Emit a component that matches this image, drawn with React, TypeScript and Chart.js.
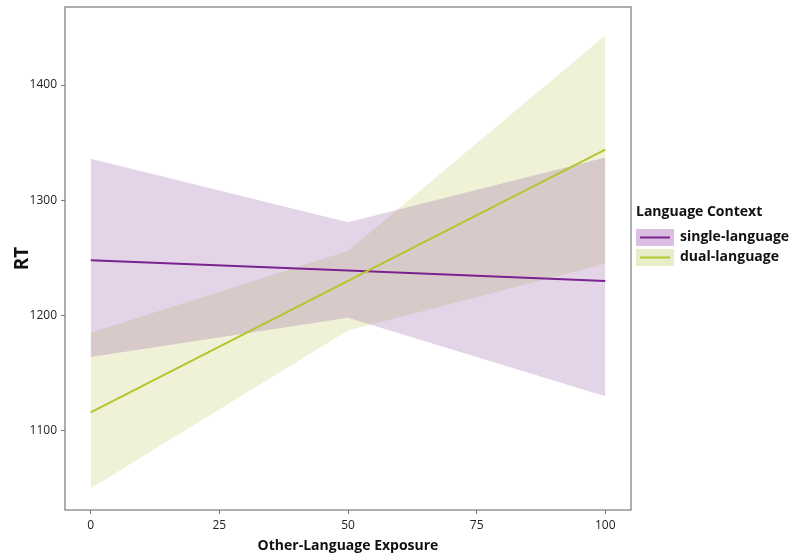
import React, { useEffect, useRef } from "react";
import { Chart, registerables } from "chart.js";

Chart.register(...registerables);

const exposure = [0, 50, 100];
const singleFit = [1248, 1239, 1230];
const singleLower = [1164, 1198, 1130];
const singleUpper = [1336, 1281, 1337];
const dualFit = [1116, 1230, 1344];
const dualLower = [1050, 1187, 1245];
const dualUpper = [1185, 1256, 1443];
const xTicks = [0, 25, 50, 75, 100];
const yTicks = [1100, 1200, 1300, 1400];
const seriesNames = ["single-language", "dual-language"];
const legendTitle = "Language Context";

const PURPLE_LINE = "#7a2390";
const PURPLE_FILL = "rgba(115,40,140,0.2)";
const GREEN_LINE = "#b3c62c";
const GREEN_FILL = "rgba(175,190,55,0.2)";
const FONT = "'Open Sans', 'Noto Sans', sans-serif";

const pts = (ys: number[]) => exposure.map((x, i) => ({ x, y: ys[i] }));

export default function App() {
  const ref = useRef<HTMLCanvasElement | null>(null);
  useEffect(() => {
    document.body.style.margin = "0";
    const canvas = ref.current!;
    const framePlugin = {
      id: "frame",
      afterDraw(chart: any) {
        const { ctx, chartArea: a } = chart;
        ctx.save();
        ctx.strokeStyle = "#7a7a7a";
        ctx.lineWidth = 1.2;
        ctx.strokeRect(a.left, a.top, a.right - a.left, a.bottom - a.top);
        // axis titles
        ctx.fillStyle = "#111";
        ctx.font = `bold 14px ${FONT}`;
        ctx.textAlign = "center";
        ctx.textBaseline = "middle";
        ctx.fillText("Other-Language Exposure", (a.left + a.right) / 2, 546);
        ctx.save();
        ctx.translate(23, (a.top + a.bottom) / 2);
        ctx.rotate(-Math.PI / 2);
        ctx.font = `bold 19px ${FONT}`;
        ctx.fillText("RT", 0, 0);
        ctx.restore();
        // legend
        ctx.textAlign = "left";
        ctx.font = `bold 14px ${FONT}`;
        ctx.fillText(legendTitle, 636, 212);
        const keys = [
          { fill: "#dabfe3", line: PURPLE_LINE, y: 229 },
          { fill: "#e7edc6", line: GREEN_LINE, y: 249 },
        ];
        keys.forEach((k, i) => {
          ctx.fillStyle = k.fill;
          ctx.fillRect(636, k.y, 38, 17);
          ctx.strokeStyle = k.line;
          ctx.lineWidth = 2;
          ctx.beginPath();
          ctx.moveTo(640, k.y + 8.5);
          ctx.lineTo(670, k.y + 8.5);
          ctx.stroke();
          ctx.fillStyle = "#111";
          ctx.font = `bold 14px ${FONT}`;
          ctx.fillText(seriesNames[i], 680, k.y + 8.5);
        });
        ctx.restore();
      },
    };
    const ribbon = (data: number[], fill: any, color: string, order: number) => ({
      data: pts(data),
      borderWidth: 0,
      pointRadius: 0,
      borderColor: "rgba(0,0,0,0)",
      backgroundColor: color,
      fill,
      order,
      tension: 0,
    });
    const chart = new Chart(canvas, {
      type: "line",
      data: {
        datasets: [
          { ...ribbon(singleLower, false, PURPLE_FILL, 2) },
          { ...ribbon(singleUpper, 0, PURPLE_FILL, 2) },
          { ...ribbon(dualLower, false, GREEN_FILL, 3) },
          { ...ribbon(dualUpper, 2, GREEN_FILL, 3) },
          {
            data: pts(singleFit),
            borderColor: PURPLE_LINE,
            borderWidth: 2,
            pointRadius: 0,
            fill: false,
            order: 1,
          },
          {
            data: pts(dualFit),
            borderColor: GREEN_LINE,
            borderWidth: 2,
            pointRadius: 0,
            fill: false,
            order: 0,
          },
        ] as any,
      },
      options: {
        animation: false,
        responsive: false,
        maintainAspectRatio: false,
        layout: { padding: { left: 0, right: 164, top: 7, bottom: 0 } },
        plugins: { legend: { display: false }, tooltip: { enabled: false } },
        scales: {
          x: {
            type: "linear",
            min: -5,
            max: 105,
            afterBuildTicks: (s: any) => {
              s.ticks = xTicks.map((v) => ({ value: v }));
            },
            afterFit: (s: any) => {
              s.height = 44;
              s.paddingLeft = 0;
              s.paddingRight = 0;
            },
            grid: { drawOnChartArea: false, drawTicks: true, tickLength: 4, color: "#7a7a7a" },
            border: { display: false },
            ticks: { color: "#222", font: { family: FONT, size: 12 }, padding: 4, callback: (v: any) => String(v) },
          },
          y: {
            type: "linear",
            min: 1031.2,
            max: 1467.7,
            afterBuildTicks: (s: any) => {
              s.ticks = yTicks.map((v) => ({ value: v }));
            },
            afterFit: (s: any) => {
              s.width = 65;
              s.paddingTop = 0;
              s.paddingBottom = 0;
            },
            grid: { drawOnChartArea: false, drawTicks: true, tickLength: 4, color: "#7a7a7a" },
            border: { display: false },
            ticks: { color: "#222", font: { family: FONT, size: 12 }, padding: 4, callback: (v: any) => String(v) },
          },
        },
      } as any,
      plugins: [framePlugin],
    });
    return () => chart.destroy();
  }, []);
  return <canvas ref={ref} width={795} height={554} style={{ display: "block" }} />;
}
